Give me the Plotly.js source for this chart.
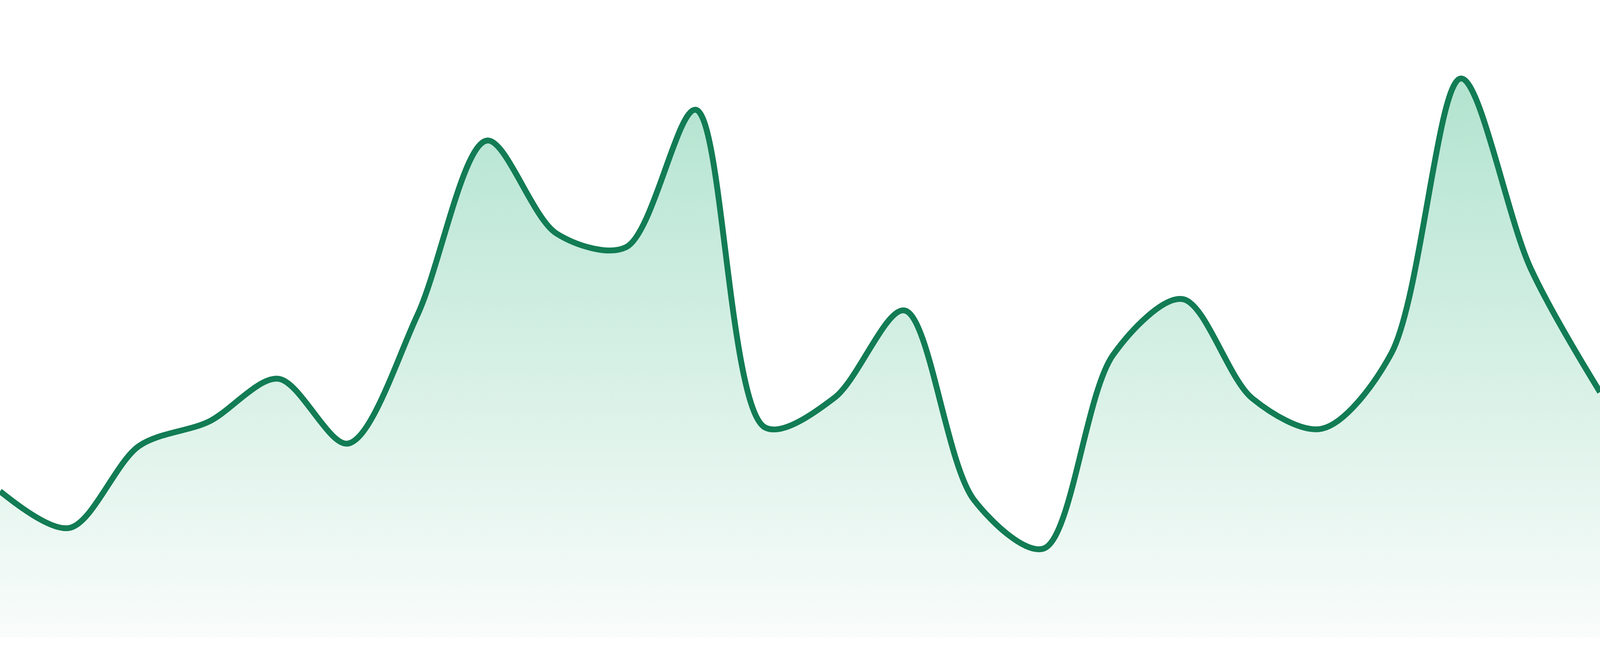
<!DOCTYPE html>
<html>
<head>
<meta charset="utf-8">
<script src="https://cdn.plot.ly/plotly-3.0.1.min.js"></script>
<style>
  html, body { margin: 0; padding: 0; background: #ffffff; overflow: hidden; }
  #chart { width: 100vw; height: 100vh; }
</style>
</head>
<body>
<div id="chart"></div>
<script>
// Point index along the x axis (24 evenly spaced samples)
const xIndex = [0,1,2,3,4,5,6,7,8,9,10,11,12,13,14,15,16,17,18,19,20,21,22,23];
// Series values
const values = [37.4, 28.0, 49.0, 55.2, 66.2, 49.6, 82.5, 127.2, 103.4, 99.9, 135.1, 53.7,
                61.4, 83.7, 35.2, 22.7, 72.3, 86.6, 61.2, 53.4, 72.7, 143.1, 94.6, 62.8];

const lineColor = 'rgb(18,124,84)';
const fillTop = 'rgb(168,224,201)';
const fillBottom = 'rgb(249,252,251)';

const yMax = 163.2;

const W = window.innerWidth || 4800;
const H = window.innerHeight || 1680;
const k = H / 1680;

const trace = {
  x: xIndex,
  y: values,
  type: 'scatter',
  mode: 'lines',
  line: { color: lineColor, width: 15 * k, shape: 'spline', smoothing: 0.9 },
  fill: 'tozeroy',
  fillgradient: {
    type: 'vertical',
    start: 0,
    stop: yMax,
    colorscale: [[0, fillBottom], [1, fillTop]]
  },
  hoverinfo: 'skip'
};

const layout = {
  width: W,
  height: H,
  margin: { l: 0, r: 0, t: 0, b: 48 * k, pad: 0 },
  paper_bgcolor: '#ffffff',
  plot_bgcolor: '#ffffff',
  showlegend: false,
  xaxis: { range: [0, 23], visible: false, fixedrange: true },
  yaxis: { range: [0, yMax], visible: false, fixedrange: true }
};

Plotly.newPlot('chart', [trace], layout, { staticPlot: true, displayModeBar: false });
</script>
</body>
</html>
